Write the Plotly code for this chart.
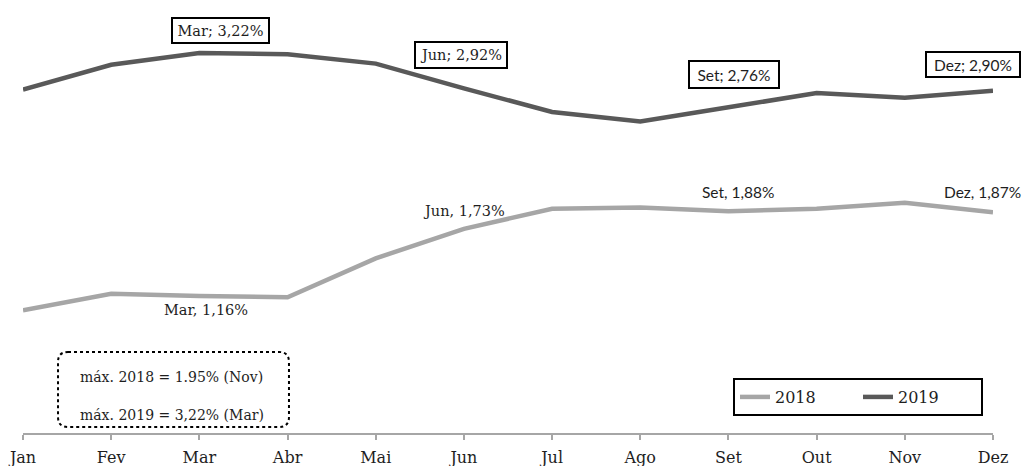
import plotly.graph_objects as go

months = ["Jan", "Fev", "Mar", "Abr", "Mai", "Jun", "Jul", "Ago", "Set", "Out", "Nov", "Dez"]
v2018 = [1.04, 1.18, 1.16, 1.15, 1.48, 1.73, 1.90, 1.91, 1.88, 1.90, 1.95, 1.87]
v2019 = [2.91, 3.12, 3.22, 3.21, 3.13, 2.92, 2.72, 2.64, 2.76, 2.88, 2.84, 2.90]

labels2019 = [("Mar", 3.22, "Mar; 3,22%"), ("Jun", 2.92, "Jun; 2,92%"),
              ("Set", 2.76, "Set; 2,76%"), ("Dez", 2.90, "Dez; 2,90%")]
labels2018 = [("Mar", 1.16, "Mar, 1,16%"), ("Jun", 1.73, "Jun, 1,73%"),
              ("Set", 1.88, "Set, 1,88%"), ("Dez", 1.87, "Dez, 1,87%")]
note_lines = ["máx. 2018 = 1.95% (Nov)", "máx. 2019 = 3,22% (Mar)"]

SERIF = "DejaVu Serif"
SANS = "Lato"
TXT = "#1e1e1e"

fig = go.Figure()
fig.add_trace(go.Scatter(x=months, y=v2018, mode="lines", name="2018",
                         line=dict(color="#A6A6A6", width=4.5)))
fig.add_trace(go.Scatter(x=months, y=v2019, mode="lines", name="2019",
                         line=dict(color="#595959", width=4.5)))

# label styles: (xshift, yshift, box width, box height, font family)
style2019 = {"Mar": (21, 22.5, 93, 21, SERIF), "Jun": (-3, 33, 88, 22, SERIF),
             "Set": (6, 32.5, 86, 23, SANS), "Dez": (-20, 26.5, 90, 21, SANS)}
style2018 = {"Mar": (7, -14, SERIF), "Jun": (0, 18, SERIF),
             "Set": (10, 19, SANS), "Dez": (-11, 20, SANS)}

annotations = []
for m, v, t in labels2019:
    xs, ys, w, h, fam = style2019[m]
    annotations.append(dict(x=m, y=v, xref="x", yref="y", text=t, showarrow=False,
                            xshift=xs, yshift=ys, width=w, height=h,
                            bordercolor="black", borderwidth=2, borderpad=1,
                            bgcolor="white",
                            font=dict(family=fam, size=14.5 if fam == SERIF else 15.5, color=TXT)))
for m, v, t in labels2018:
    xs, ys, fam = style2018[m]
    annotations.append(dict(x=m, y=v, xref="x", yref="y", text=t, showarrow=False,
                            xshift=xs, yshift=ys,
                            font=dict(family=fam, size=14.5 if fam == SERIF else 15.5, color=TXT)))

# note box text
for t, yp in zip(note_lines, [0.1293, 0.0416]):
    annotations.append(dict(x=0.0567, y=yp, xref="paper", yref="paper", text=t,
                            showarrow=False, xanchor="left", yanchor="middle",
                            font=dict(family=SERIF, size=14, color=TXT)))

# rounded dotted note box (paper coords)
x0, x1, y0, y1 = 0.0361, 0.2742, 0.01386, 0.1871
rx, ry = 0.0103, 0.0231
path = (f"M {x0+rx},{y1} L {x1-rx},{y1} Q {x1},{y1} {x1},{y1-ry} "
        f"L {x1},{y0+ry} Q {x1},{y0} {x1-rx},{y0} L {x0+rx},{y0} "
        f"Q {x0},{y0} {x0},{y0+ry} L {x0},{y1-ry} Q {x0},{y1} {x0+rx},{y1} Z")
shapes = [dict(type="path", xref="paper", yref="paper", path=path,
               line=dict(color="black", width=2, dash="dot"))]

fig.update_layout(
    width=1026, height=466,
    margin=dict(l=23, r=33, t=0, b=33),
    paper_bgcolor="white", plot_bgcolor="white",
    showlegend=True,
    legend=dict(orientation="h", x=0.9897, xanchor="right", y=0.127, yanchor="top",
                bordercolor="black", borderwidth=2, bgcolor="white",
                entrywidth=78, entrywidthmode="pixels",
                font=dict(family=SERIF, size=16, color=TXT)),
    xaxis=dict(type="category", range=[0, 11], showgrid=False, zeroline=False,
               showline=True, linecolor="#A6A6A6", linewidth=1.5,
               ticks="outside", ticklen=5, tickcolor="#A6A6A6", tickwidth=1.5,
               ticklabelstandoff=4,
               tickfont=dict(family=SERIF, size=16, color=TXT)),
    yaxis=dict(range=[0, 3.669], visible=False, showgrid=False, zeroline=False),
    annotations=annotations,
    shapes=shapes,
)

fig.write_html("out.html")
